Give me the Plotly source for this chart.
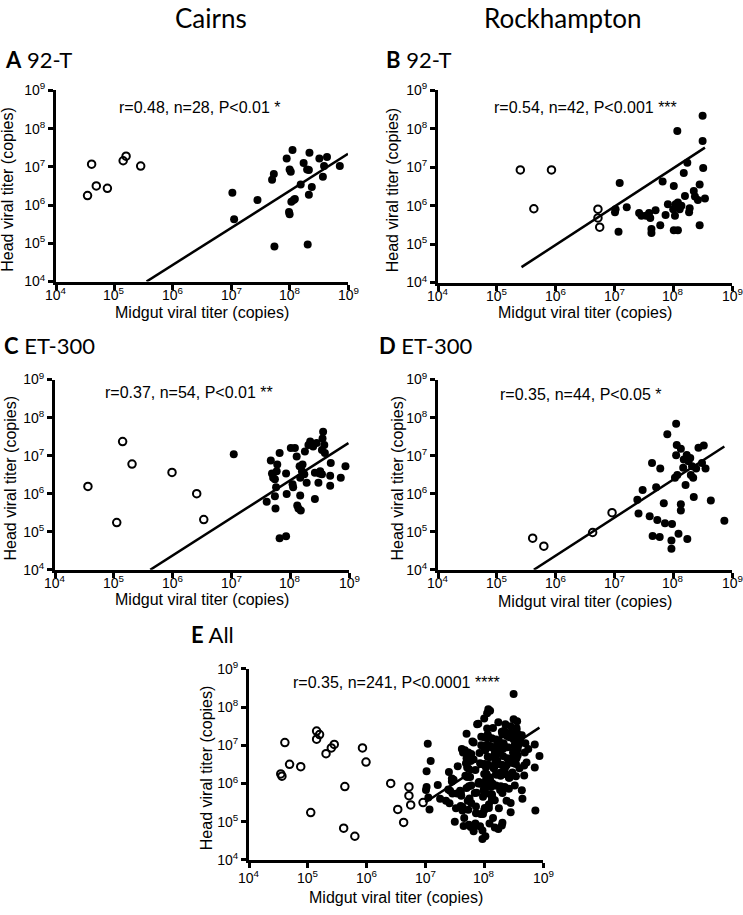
import numpy as np
import plotly.graph_objects as go

# ---- data: log10 of titer (copies) ----
# Panel A  (Cairns, 92-T)
A_open_mid = [4.54, 4.61, 4.69, 4.88, 5.15, 5.20, 5.45]
A_open_head = [6.25, 7.07, 6.50, 6.44, 7.16, 7.28, 7.02]
A_fill_mid = [7.02, 7.05, 7.45, 7.70, 7.73, 7.74, 7.95, 8.00, 8.02, 8.05, 7.99, 8.00, 8.03, 8.07,
              8.09, 8.19, 8.24, 8.30, 8.33, 8.33, 8.34, 8.31, 8.38, 8.51, 8.57, 8.59, 8.64, 8.86]
A_fill_head = [6.32, 5.63, 6.13, 6.66, 6.81, 4.92, 7.22, 6.93, 6.87, 7.44, 5.82, 5.76, 6.09, 6.13,
               6.16, 6.54, 7.10, 6.93, 6.92, 6.27, 7.37, 4.97, 6.47, 7.22, 6.74, 7.02, 7.26, 7.02]
A_fit_mid = [5.55, 9.00]
A_fit_head = [4.00, 7.34]

# Panel B  (Rockhampton, 92-T)
B_open_mid = [5.40, 5.93, 5.63, 6.72, 6.72, 6.75]
B_open_head = [6.93, 6.93, 5.92, 5.91, 5.68, 5.44]
B_fill_mid = [7.09, 7.02, 7.01, 7.07, 7.21, 7.46, 7.54, 7.42, 7.61, 7.59, 7.63, 7.63, 7.70, 7.78,
              7.82, 7.87, 7.91, 8.00, 8.01, 8.01, 8.03, 8.04, 8.07, 8.08, 8.08, 8.11, 8.14, 8.18,
              8.20, 8.24, 8.27, 8.28, 8.35, 8.37, 8.42, 8.45, 8.45, 8.50, 8.50, 8.51, 8.54]
B_fill_head = [6.59, 5.91, 5.83, 5.32, 5.96, 5.74, 5.74, 5.81, 5.68, 5.81, 5.39, 5.29, 5.88, 5.49,
               6.63, 5.76, 6.04, 5.91, 6.51, 5.36, 5.74, 6.04, 7.94, 5.36, 6.08, 5.91, 6.00, 6.85,
               6.25, 7.12, 5.83, 5.93, 6.38, 6.24, 6.15, 6.55, 5.49, 8.34, 7.68, 6.98, 6.19]
B_fit_mid = [5.42, 8.54]
B_fit_head = [4.40, 7.51]

# Panel C  (Cairns, ET-300)
C_open_mid = [4.56, 5.05, 5.15, 5.31, 5.99, 6.41, 6.53]
C_open_head = [6.19, 5.24, 7.37, 6.78, 6.56, 6.00, 5.32]
C_fill_mid = [7.04, 7.60, 7.67, 7.69, 7.71, 7.74, 7.76, 7.77, 7.78, 7.82, 7.75, 7.74, 7.82, 7.93,
              7.93, 7.94, 8.01, 8.04, 8.05, 8.08, 8.11, 8.12, 8.14, 8.16, 8.17, 8.17, 8.18, 8.20,
              8.21, 8.24, 8.25, 8.28, 8.31, 8.34, 8.39, 8.42, 8.42, 8.45, 8.48, 8.50, 8.51, 8.54,
              8.55, 8.56, 8.58, 8.59, 8.54, 8.69, 8.68, 8.68, 8.86, 8.94]
C_fill_head = [7.04, 5.79, 6.87, 6.53, 6.42, 6.38, 6.17, 6.59, 6.77, 7.07, 5.61, 5.93, 4.83, 4.88,
               6.53, 5.99, 7.20, 6.25, 6.17, 7.20, 6.98, 5.69, 5.61, 6.72, 6.42, 5.95, 5.56, 6.59,
               6.77, 6.51, 7.11, 6.29, 7.28, 7.37, 7.24, 5.86, 6.55, 7.33, 6.29, 6.53, 6.59, 7.15,
               7.45, 7.63, 7.28, 7.07, 6.51, 6.81, 6.47, 6.21, 6.42, 6.72]
C_fit_mid = [5.62, 8.99]
C_fit_head = [4.00, 7.33]

# Panel D  (Rockhampton, ET-300)
D_open_mid = [5.61, 5.80, 6.63, 6.96]
D_open_head = [4.83, 4.62, 4.98, 5.50]
D_fill_mid = [7.39, 7.41, 7.48, 7.60, 7.64, 7.65, 7.71, 7.73, 7.77, 7.78, 7.84, 7.86, 7.90, 7.98,
              7.97, 7.97, 8.03, 8.05, 8.05, 8.06, 8.07, 8.09, 8.13, 8.13, 8.13, 8.17, 8.18, 8.21,
              8.23, 8.24, 8.26, 8.29, 8.30, 8.34, 8.32, 8.35, 8.39, 8.43, 8.49, 8.52, 8.55, 8.64,
              8.87]
D_fill_head = [5.84, 5.48, 6.10, 5.41, 6.81, 4.89, 6.17, 5.31, 4.86, 6.66, 5.75, 5.22, 7.56, 5.20,
               4.77, 4.55, 6.42, 7.01, 7.84, 7.28, 6.49, 4.95, 7.18, 5.72, 5.56, 6.68, 6.90, 6.23,
               7.02, 4.81, 6.85, 6.94, 6.49, 6.42, 6.72, 5.91, 6.66, 7.21, 6.81, 7.27, 6.66, 5.82,
               5.29]
D_fit_mid = [5.63, 8.87]
D_fit_head = [4.00, 7.24]

# Panel E  (All): panels A-D plus further mosquitoes only shown pooled
E_extra_mid = [7.35, 7.45, 7.52, 7.55, 7.60, 7.62, 7.66, 7.68, 7.70, 7.72, 7.75, 7.78, 7.80, 7.82,
               7.85, 7.86, 7.88, 7.90, 7.92, 7.94, 7.95, 7.97, 7.98, 8.00, 8.00, 8.02, 8.03, 8.05,
               8.06, 8.08, 8.10, 8.10, 8.12, 8.13, 8.15, 8.16, 8.18, 8.20, 8.20, 8.22, 8.24, 8.25,
               8.27, 8.28, 8.30, 8.31, 8.33, 8.35, 8.36, 8.38, 8.40, 8.42, 8.43, 8.45, 8.47, 8.50,
               8.52, 8.55, 8.57, 8.60, 8.62, 8.65, 8.70, 8.72, 8.30, 7.40, 7.50, 8.75, 8.00, 7.85,
               8.15, 8.45, 7.25]
E_extra_head = [5.55, 6.05, 5.35, 6.45, 5.75, 6.90, 5.10, 6.20, 7.30, 5.55, 6.65, 5.95, 7.10, 4.75,
                6.35, 5.40, 7.55, 6.00, 6.80, 5.20, 7.00, 6.50, 5.65, 7.70, 6.25, 4.62, 5.90, 7.25,
                6.70, 5.45, 7.90, 6.10, 6.95, 5.70, 7.45, 6.40, 4.85, 7.15, 5.95, 6.60, 7.60, 5.35,
                6.85, 6.20, 7.35, 5.75, 7.05, 6.45, 7.55, 5.55, 6.95, 7.30, 6.15, 7.50, 6.65, 7.15,
                5.95, 7.40, 6.90, 6.40, 7.20, 5.60, 7.05, 6.55, 4.90, 6.30, 5.00, 6.90, 5.30, 4.95,
                5.10, 5.25, 5.60]
E_fit_mid = [7.00, 8.94]
E_fit_head = [5.51, 7.46]

E_open_mid = A_open_mid + B_open_mid + C_open_mid + D_open_mid
E_open_head = A_open_head + B_open_head + C_open_head + D_open_head
E_fill_mid = A_fill_mid + B_fill_mid + C_fill_mid + D_fill_mid + E_extra_mid
E_fill_head = A_fill_head + B_fill_head + C_fill_head + D_fill_head + E_extra_head

tick_exps = [4, 5, 6, 7, 8, 9]
tick_text = ["10<sup>%d</sup>" % e for e in tick_exps]
column_titles = ["Cairns", "Rockhampton"]
panel_letters = ["A", "B", "C", "D", "E"]
panel_names = ["92-T", "92-T", "ET-300", "ET-300", "All"]
stats_text = ["r=0.48, n=28, P<0.01 *", "r=0.54, n=42, P<0.001 ***",
              "r=0.37, n=54, P<0.01 **", "r=0.35, n=44, P<0.05 *",
              "r=0.35, n=241, P<0.0001 ****"]
x_title = "Midgut viral titer (copies)"
y_title = "Head viral titer (copies)"

panels = [
    (A_open_mid, A_open_head, A_fill_mid, A_fill_head, A_fit_mid, A_fit_head),
    (B_open_mid, B_open_head, B_fill_mid, B_fill_head, B_fit_mid, B_fit_head),
    (C_open_mid, C_open_head, C_fill_mid, C_fill_head, C_fit_mid, C_fit_head),
    (D_open_mid, D_open_head, D_fill_mid, D_fill_head, D_fit_mid, D_fit_head),
    (E_open_mid, E_open_head, E_fill_mid, E_fill_head, E_fit_mid, E_fit_head),
]

W, H = 743, 915
# pixel boxes of each plot area: (left, right, top, bottom)
boxes = [(56, 348, 82, 277), (438, 732, 82, 278), (55, 349, 377, 571),
         (438, 732, 377, 571), (249, 543, 672, 867)]
stat_pos = [(0.49, 0.91), (0.50, 0.91), (0.455, 0.93), (0.483, 0.92), (0.50, 0.93)]
title_pos = [(3, 51), (384, 51), (2, 342), (377, 342), (189, 637)]
xtitle_shift = [-31, -30, -30, -32, -38]
ytitle_shift = [-48, -46, -45, -41, -43]
xlabel_shift = [-12, -12, -12, -12, -17]
TICK_SIZE = 14

AX_FONT = "Liberation Sans, Arial, sans-serif"
TITLE_FONT = "Lato, Open Sans, sans-serif"

fig = go.Figure()
layout = dict(width=W, height=H, margin=dict(l=0, r=0, t=0, b=0),
              paper_bgcolor="white", plot_bgcolor="white", showlegend=False,
              font=dict(family=AX_FONT, color="black"))
annotations = []

for i, (om, oh, fm, fh, lm, lh) in enumerate(panels):
    n = i + 1
    xa = "x" if n == 1 else "x%d" % n
    ya = "y" if n == 1 else "y%d" % n
    fig.add_trace(go.Scatter(x=10 ** np.array(lm), y=10 ** np.array(lh), mode="lines",
                             line=dict(color="black", width=2.5), xaxis=xa, yaxis=ya,
                             cliponaxis=False))
    fig.add_trace(go.Scatter(x=10 ** np.array(fm), y=10 ** np.array(fh), mode="markers",
                             marker=dict(symbol="circle", size=8, color="black"),
                             xaxis=xa, yaxis=ya, cliponaxis=False))
    fig.add_trace(go.Scatter(x=10 ** np.array(om), y=10 ** np.array(oh), mode="markers",
                             marker=dict(symbol="circle-open", size=7.5, color="black",
                                         line=dict(width=2)),
                             xaxis=xa, yaxis=ya, cliponaxis=False))
    l, r, t, b = boxes[i]
    common = dict(type="log", showline=True, linewidth=3, linecolor="black",
                  ticks="outside", ticklen=5, tickwidth=3, tickcolor="black",
                  showgrid=False, zeroline=False, tickvals=[10 ** e for e in tick_exps],
                  ticktext=tick_text, tickfont=dict(size=TICK_SIZE, family=AX_FONT),
                  fixedrange=True)
    layout["xaxis" if n == 1 else "xaxis%d" % n] = dict(
        common, domain=[l / W, r / W], range=[4, 9], anchor=ya, showticklabels=False)
    layout["yaxis" if n == 1 else "yaxis%d" % n] = dict(
        common, domain=[1 - b / H, 1 - t / H], range=[4, 9], anchor=xa)
    # x tick labels, placed at the tick positions of the log axis
    for e, lab in zip(tick_exps, tick_text):
        annotations.append(dict(text=lab, xref=xa, yref="%s domain" % ya, x=e, y=0,
                                yshift=xlabel_shift[i], showarrow=False, xanchor="center",
                                yanchor="middle", font=dict(size=TICK_SIZE, family=AX_FONT)))
    # axis titles
    annotations.append(dict(text=x_title, xref="%s domain" % xa, yref="%s domain" % ya,
                            x=0.5, y=0, yshift=xtitle_shift[i], showarrow=False,
                            xanchor="center", yanchor="middle", font=dict(size=16)))
    annotations.append(dict(text=y_title, xref="%s domain" % xa, yref="%s domain" % ya,
                            x=0, y=0.48, xshift=ytitle_shift[i], textangle=-90,
                            showarrow=False, xanchor="center", yanchor="middle",
                            font=dict(size=16)))
    sx, sy = stat_pos[i]
    annotations.append(dict(text=stats_text[i], xref="%s domain" % xa, yref="%s domain" % ya,
                            x=sx, y=sy, showarrow=False, xanchor="center", yanchor="middle",
                            font=dict(size=16, family=AX_FONT)))
    tx, ty = title_pos[i]
    annotations.append(dict(text="<b>%s</b> %s" % (panel_letters[i], panel_names[i]),
                            xref="paper", yref="paper", x=tx / W, y=1 - ty / H,
                            showarrow=False, xanchor="left", yanchor="middle",
                            font=dict(size=22, family=TITLE_FONT)))

for txt, cx in zip(column_titles, [211, 563]):
    annotations.append(dict(text=txt, xref="paper", yref="paper", x=cx / W, y=1 - 8 / H,
                            showarrow=False, xanchor="center", yanchor="middle",
                            font=dict(size=26, family=TITLE_FONT)))

layout["annotations"] = annotations
fig.update_layout(**layout)
fig.write_html("out.html", config={"displayModeBar": False},
               post_script="document.body.style.margin='0';document.body.style.overflow='hidden';")
